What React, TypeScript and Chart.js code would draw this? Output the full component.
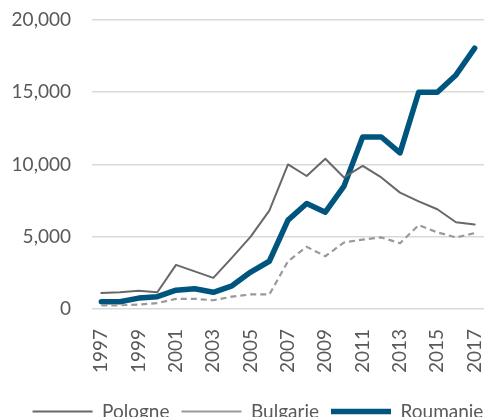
import { useEffect, useRef } from "react";
import { Chart, registerables } from "chart.js";
Chart.register(...registerables);

const years = ["1997","1998","1999","2000","2001","2002","2003","2004","2005","2006","2007","2008","2009","2010","2011","2012","2013","2014","2015","2016","2017"];
const pologne = [1100,1150,1250,1150,3050,2600,2150,3550,5000,6800,10000,9200,10400,9100,9900,9100,8050,7450,6900,6000,5850];
const bulgarie = [250,250,300,400,700,700,600,850,1000,1000,3300,4300,3650,4600,4800,4950,4550,5800,5300,4950,5250];
const roumanie = [500,500,750,850,1300,1400,1150,1600,2550,3300,6150,7300,6700,8500,11900,11900,10800,15000,15000,16200,18050];
const yTicks = [0, 5000, 10000, 15000, 20000];

const W = 516;
const H = 431;
const FONT = { family: "Lato, 'Open Sans', sans-serif", size: 19 };
const TXT = "#595959";

export default function App() {
  const ref = useRef<HTMLCanvasElement>(null);
  useEffect(() => {
    document.body.style.overflow = "hidden";
    const chart = new Chart(ref.current!, {
      type: "line",
      data: {
        labels: years,
        datasets: [
          { label: "Pologne", data: pologne, borderColor: "#686868", borderWidth: 2, pointRadius: 0, borderJoinStyle: "round", borderCapStyle: "round", tension: 0 },
          { label: "Bulgarie", data: bulgarie, borderColor: "#999999", borderWidth: 2.2, borderDash: [6, 4], pointRadius: 0, tension: 0 },
          { label: "Roumanie", data: roumanie, borderColor: "#00557f", borderWidth: 5.5, pointRadius: 0, borderJoinStyle: "round", borderCapStyle: "round", tension: 0 },
        ],
      },
      options: {
        responsive: false,
        animation: false,
        layout: { padding: { top: 20, left: 0, right: 0, bottom: 0 } },
        plugins: {
          tooltip: { enabled: false },
          legend: {
            position: "bottom",
            labels: {
              usePointStyle: true,
              pointStyle: "line",
              pointStyleWidth: 60,
              padding: 12,
              color: TXT,
              font: FONT,
            },
          },
        },
        scales: {
          x: {
            offset: true,
            grid: { display: false },
            border: { display: false },
            afterFit: (s: any) => { s.height = s.height + 5; },
            ticks: {
              autoSkip: false,
              maxRotation: 90,
              minRotation: 90,
              padding: 12,
              color: TXT,
              font: FONT,
              callback: (_v: any, i: number) => (i % 2 === 0 ? years[i] : ""),
            },
          },
          y: {
            min: 0,
            max: 20000,
            afterBuildTicks: (s: any) => { s.ticks = yTicks.map((v) => ({ value: v })); },
            afterFit: (s: any) => { s.width = 92; },
            grid: { color: "#d9d9d9", lineWidth: 1.5, drawTicks: true, tickLength: 18, tickColor: "rgba(0,0,0,0)" },
            border: { display: false },
            ticks: {
              padding: 3,
              color: TXT,
              font: FONT,
              callback: (v: any) => Number(v).toLocaleString("en-US"),
            },
          },
          yRight: {
            position: "right",
            grid: { display: false },
            border: { display: false },
            ticks: { display: false },
            afterFit: (s: any) => { s.width = 32; },
          },
        },
      },
    });
    return () => chart.destroy();
  }, []);
  return (
    <div style={{ position: "fixed", left: 0, top: 0, width: W, height: H, overflow: "hidden" }}>
      <canvas ref={ref} width={W} height={H} style={{ display: "block" }} />
    </div>
  );
}
